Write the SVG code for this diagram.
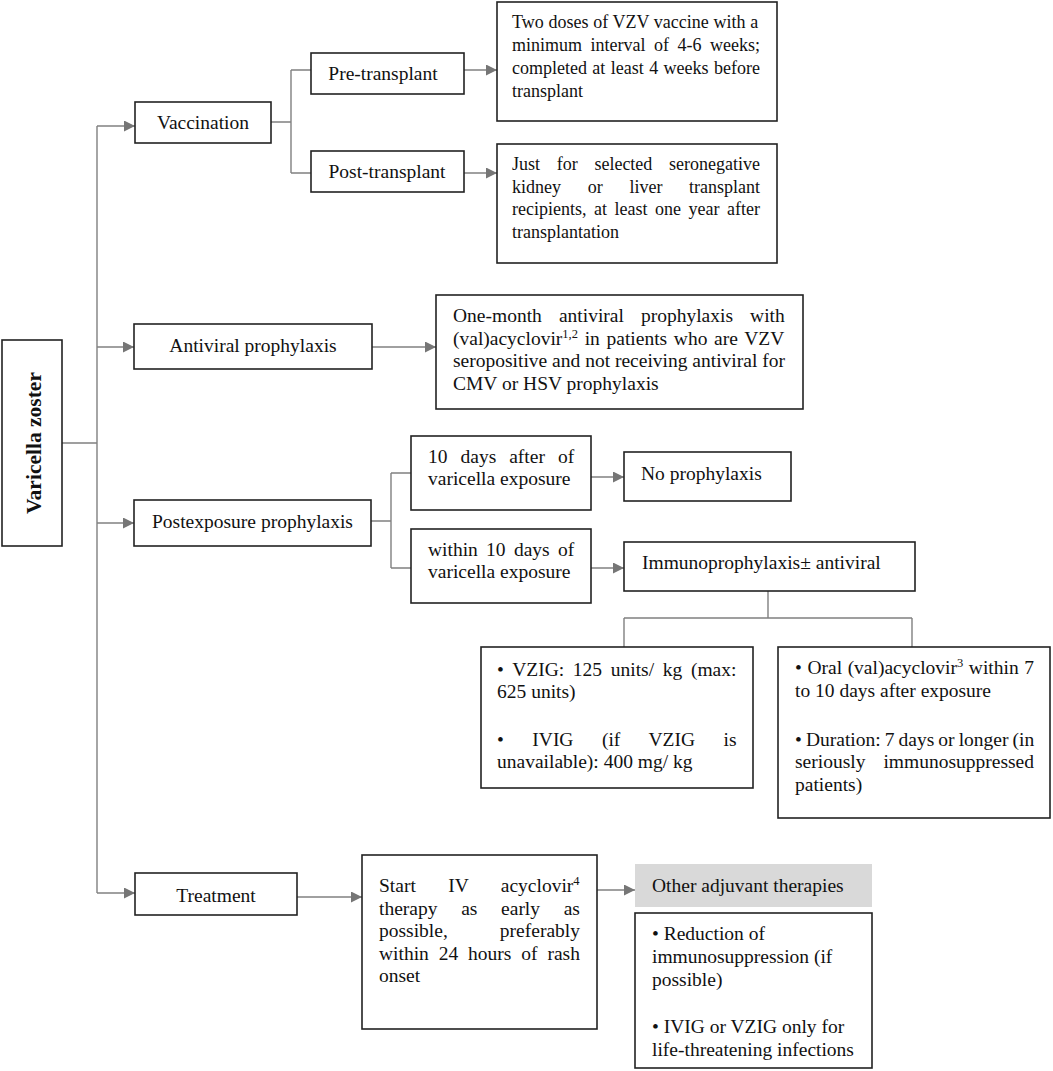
<svg xmlns="http://www.w3.org/2000/svg" width="1053" height="1071" viewBox="0 0 1053 1071">
<style>
.box{fill:#fff;stroke:#222;stroke-width:1.6}
.gray{fill:#d9d9d9;stroke:none}
.t{font-family:"Liberation Serif","Times New Roman",serif;font-size:19.5px;fill:#111}
.s{font-size:18px}
.c{text-anchor:middle}
.b{font-weight:bold;font-size:21.5px}
.sup{font-size:12.5px}
.ln{fill:none;stroke:#808080;stroke-width:1.4}
</style>
<defs>
<marker id="ah" markerUnits="userSpaceOnUse" markerWidth="11" markerHeight="11" refX="11" refY="5.5" orient="auto">
<path d="M0,0 L11,5.5 L0,11 z" fill="#767676"/>
</marker>
</defs>
<rect width="1053" height="1071" fill="#fff"/>

<g id="connectors">
<path class="ln" d="M62,443 H97 M97,126 V893"/>
<path class="ln" d="M97,126 H135" marker-end="url(#ah)"/>
<path class="ln" d="M97,347 H134" marker-end="url(#ah)"/>
<path class="ln" d="M97,523 H134" marker-end="url(#ah)"/>
<path class="ln" d="M97,893 H135" marker-end="url(#ah)"/>
<path class="ln" d="M271,122 H291 M291,70 V173 M291,70 H311 M291,173 H311"/>
<path class="ln" d="M464,70 H497" marker-end="url(#ah)"/>
<path class="ln" d="M464,173 H497" marker-end="url(#ah)"/>
<path class="ln" d="M372,347 H436" marker-end="url(#ah)"/>
<path class="ln" d="M371,521 H391 M391,473 V568 M391,473 H411 M391,568 H411"/>
<path class="ln" d="M591,477 H624" marker-end="url(#ah)"/>
<path class="ln" d="M591,568 H624" marker-end="url(#ah)"/>
<path class="ln" d="M768,591 V618 M624,618 H912 M624,618 V647 M912,618 V647"/>
<path class="ln" d="M297,897 H362" marker-end="url(#ah)"/>
<path class="ln" d="M597,890 H635" marker-end="url(#ah)"/>
</g>

<g id="varicella">
<rect class="box" x="2" y="340" width="60" height="206"/>
<text class="t b c" transform="translate(41,443) rotate(-90)">Varicella zoster</text>
</g>

<g id="vaccination">
<rect class="box" x="135" y="102" width="136" height="41"/>
<text class="t c" x="203" y="129">Vaccination</text>
</g>

<g id="pre-transplant">
<rect class="box" x="311" y="53" width="153" height="41"/>
<text class="t c" x="383" y="80">Pre-transplant</text>
</g>

<g id="post-transplant">
<rect class="box" x="311" y="151" width="153" height="41"/>
<text class="t c" x="387" y="178">Post-transplant</text>
</g>

<g id="vzv-doses">
<rect class="box" x="497" y="2" width="280" height="119"/>
<text class="t s" x="512" y="28" style="word-spacing:0.2px">Two doses of VZV vaccine with a</text>
<text class="t s" x="512" y="51" style="word-spacing:4px">minimum interval of 4-6 weeks;</text>
<text class="t s" x="512" y="74" style="word-spacing:0.9px">completed at least 4 weeks before</text>
<text class="t s" x="512" y="97">transplant</text>
</g>

<g id="post-note">
<rect class="box" x="497" y="144" width="280" height="119"/>
<text class="t s" x="512" y="170" style="word-spacing:12.2px">Just for selected seronegative</text>
<text class="t s" x="512" y="193" style="word-spacing:22.2px">kidney or liver transplant</text>
<text class="t s" x="512" y="215" style="word-spacing:3px">recipients, at least one year after</text>
<text class="t s" x="512" y="238">transplantation</text>
</g>

<g id="antiviral">
<rect class="box" x="134" y="324" width="238" height="45"/>
<text class="t c" x="253" y="352">Antiviral prophylaxis</text>
</g>

<g id="one-month">
<rect class="box" x="436" y="295" width="367" height="114"/>
<text class="t" x="453" y="322" style="word-spacing:12.2px">One-month antiviral prophylaxis with</text>
<text class="t" x="453" y="344.5" style="word-spacing:1.8px">(val)acyclovir<tspan class="sup" dy="-7">1,2</tspan><tspan dy="7"> in patients who are VZV</tspan></text>
<text class="t" x="453" y="367">seropositive and not receiving antiviral for</text>
<text class="t" x="453" y="389.5">CMV or HSV prophylaxis</text>
</g>

<g id="postexposure">
<rect class="box" x="134" y="500" width="237" height="46"/>
<text class="t c" x="252.5" y="528">Postexposure prophylaxis</text>
</g>

<g id="ten-days-after">
<rect class="box" x="411" y="436" width="180" height="74"/>
<text class="t" x="428" y="463" style="word-spacing:8.1px">10 days after of</text>
<text class="t" x="428" y="485">varicella exposure</text>
</g>

<g id="within-ten-days">
<rect class="box" x="411" y="529" width="180" height="74"/>
<text class="t" x="428" y="556" style="word-spacing:3.4px">within 10 days of</text>
<text class="t" x="428" y="578">varicella exposure</text>
</g>

<g id="no-prophylaxis">
<rect class="box" x="624" y="452" width="167" height="49"/>
<text class="t" x="641" y="480">No prophylaxis</text>
</g>

<g id="immunoprophylaxis">
<rect class="box" x="624" y="542" width="291" height="49"/>
<text class="t" x="642" y="569">Immunoprophylaxis± antiviral</text>
</g>

<g id="vzig">
<rect class="box" x="481" y="647" width="272" height="141"/>
<text class="t" x="497" y="676" style="word-spacing:3.8px">• VZIG: 125 units/ kg (max:</text>
<text class="t" x="497" y="698">625 units)</text>
<text class="t" x="497" y="746" style="word-spacing:23.6px">• IVIG (if VZIG is</text>
<text class="t" x="497" y="768">unavailable): 400 mg/ kg</text>
</g>

<g id="oral">
<rect class="box" x="778" y="647" width="272" height="171"/>
<text class="t" x="795" y="674" style="word-spacing:0.7px">• Oral (val)acyclovir<tspan class="sup" dy="-7">3</tspan><tspan dy="7"> within 7</tspan></text>
<text class="t" x="795" y="697">to 10 days after exposure</text>
<text class="t" x="795" y="746" style="word-spacing:-0.8px">• Duration: 7 days or longer (in</text>
<text class="t" x="795" y="768" style="word-spacing:13.1px">seriously immunosuppressed</text>
<text class="t" x="795" y="791">patients)</text>
</g>

<g id="treatment">
<rect class="box" x="135" y="873" width="162" height="42"/>
<text class="t c" x="216" y="902">Treatment</text>
</g>

<g id="start-iv">
<rect class="box" x="362" y="855" width="235" height="174"/>
<text class="t" x="379" y="892" style="word-spacing:27.5px">Start IV acyclovir<tspan class="sup" dy="-7">4</tspan></text>
<text class="t" x="379" y="914.5" style="word-spacing:18.8px">therapy as early as</text>
<text class="t" x="379" y="937" style="word-spacing:47.2px">possible, preferably</text>
<text class="t" x="379" y="959.5" style="word-spacing:5px">within 24 hours of rash</text>
<text class="t" x="379" y="982">onset</text>
</g>

<g id="other-adjuvant">
<rect class="gray" x="635" y="864" width="237" height="43"/>
<text class="t" x="652" y="892">Other adjuvant therapies</text>
</g>

<g id="adjuvant-list">
<rect class="box" x="635" y="913" width="237" height="155"/>
<text class="t" x="652" y="940">• Reduction of</text>
<text class="t" x="652" y="963">immunosuppression (if</text>
<text class="t" x="652" y="986">possible)</text>
<text class="t" x="652" y="1033">• IVIG or VZIG only for</text>
<text class="t" x="652" y="1056">life-threatening infections</text>
</g>
</svg>
